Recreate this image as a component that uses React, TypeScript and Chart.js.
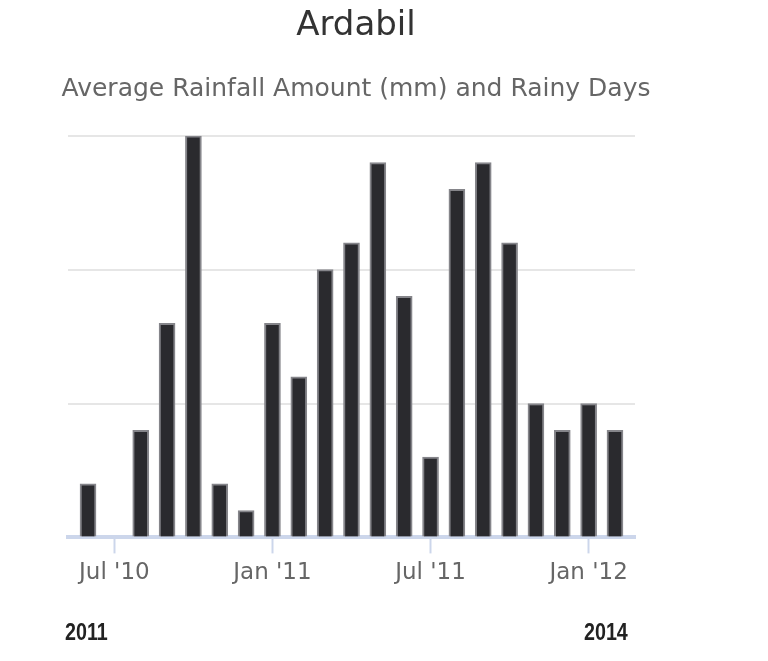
import React, { useEffect, useRef } from "react";
import { Chart, registerables } from "chart.js";

Chart.register(...registerables);

const months = [
  "Jun '10", "Jul '10", "Aug '10", "Sep '10", "Oct '10", "Nov '10", "Dec '10",
  "Jan '11", "Feb '11", "Mar '11", "Apr '11", "May '11", "Jun '11", "Jul '11",
  "Aug '11", "Sep '11", "Oct '11", "Nov '11", "Dec '11", "Jan '12", "Feb '12",
];
const rainyDays = [2, 0, 4, 8, 15, 2, 1, 8, 6, 10, 11, 14, 9, 3, 13, 14, 11, 5, 4, 5, 4];
const tickLabels = ["Jul '10", "Jan '11", "Jul '11", "Jan '12"];
const rangeLabels = ["2011", "2014"];
const titleText = "Ardabil";
const subtitleText = "Average Rainfall Amount (mm) and Rainy Days";

export default function App() {
  const canvasRef = useRef<HTMLCanvasElement | null>(null);

  useEffect(() => {
    if (!canvasRef.current) return;
    const tickIdx = tickLabels.map((l) => months.indexOf(l));
    const chart = new Chart(canvasRef.current, {
      type: "bar",
      data: {
        datasets: [
          {
            data: rainyDays.map((v, i) => ({ x: i, y: v })),
            backgroundColor: "#2a2a2e",
            borderColor: "#85858a",
            borderWidth: { top: 2, left: 2, right: 2, bottom: 0 },
            barThickness: 16,
          },
        ],
      },
      options: {
        animation: false,
        responsive: true,
        maintainAspectRatio: false,
        layout: { padding: { top: 6, left: 0, right: 56, bottom: 68 } },
        plugins: {
          legend: { display: false },
          tooltip: { enabled: false },
          title: {
            display: true,
            text: titleText,
            color: "#333333",
            font: { family: "DejaVu Sans", size: 34, weight: "normal" },
            padding: { top: 0, bottom: 28 },
          },
          subtitle: {
            display: true,
            text: subtitleText,
            color: "#666666",
            font: { family: "DejaVu Sans", size: 25, weight: "normal" },
            padding: { top: 0, bottom: 31 },
          },
        },
        scales: {
          x: {
            type: "linear",
            min: -0.76,
            max: 20.76,
            offset: false,
            z: 1,
            afterBuildTicks: (scale: any) => {
              scale.ticks = tickIdx.map((v) => ({ value: v }));
            },
            ticks: {
              autoSkip: false,
              maxRotation: 0,
              padding: 6,
              color: "#666666",
              font: { family: "DejaVu Sans", size: 23 },
              callback: (value: any) => months[Math.round(Number(value))] ?? "",
            },
            grid: {
              display: true,
              offset: false,
              drawOnChartArea: false,
              drawTicks: true,
              tickLength: 16,
              tickWidth: 2,
              tickColor: "#ccd6eb",
            },
            border: { display: true, color: "#ccd6eb", width: 4 },
          },
          y: {
            min: 0,
            max: 15,
            ticks: { display: false, stepSize: 5 },
            grid: { color: "#e6e6e6", lineWidth: 2, drawTicks: false },
            border: { display: false },
            afterFit: (scale: any) => {
              scale.width = 68;
            },
          },
          yRight: {
            type: "linear",
            position: "right",
            display: true,
            min: 0,
            max: 15,
            ticks: { display: false },
            grid: { display: false, drawTicks: false },
            border: { display: false },
            afterFit: (scale: any) => {
              scale.width = 77;
            },
          },
        },
      },
    });
    return () => chart.destroy();
  }, []);

  const labelStyle: React.CSSProperties = {
    position: "absolute",
    top: 620,
    fontFamily: "Liberation Sans",
    fontWeight: "bold",
    fontSize: 24,
    lineHeight: "24px",
    color: "#222222",
    transform: "scaleX(0.82)",
    transformOrigin: "left center",
    whiteSpace: "nowrap",
  };

  return (
    <div style={{ position: "fixed", left: 0, top: 0, width: 768, height: 661, background: "#ffffff" }}>
      <canvas ref={canvasRef} />
      <div style={{ ...labelStyle, left: 65 }}>{rangeLabels[0]}</div>
      <div style={{ ...labelStyle, left: 584 }}>{rangeLabels[1]}</div>
    </div>
  );
}
